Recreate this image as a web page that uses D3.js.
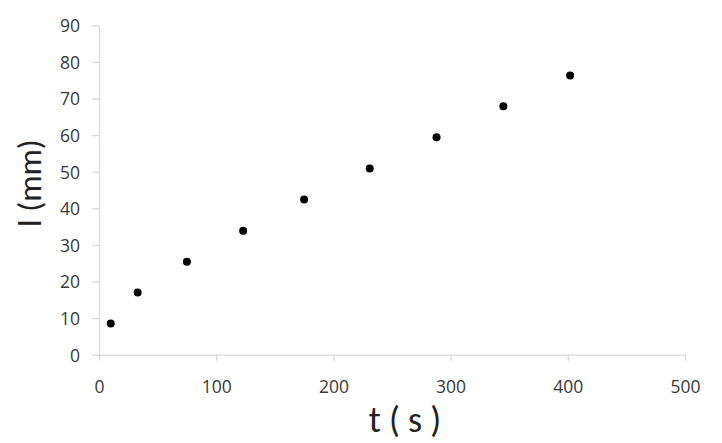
<!DOCTYPE html>
<html><head><meta charset="utf-8">
<script src="https://cdn.jsdelivr.net/npm/d3@7"></script>
<style>body{margin:0;background:#fff}svg{display:block}</style>
</head><body>
<script>
const tValues = [10, 33, 75, 123, 175, 231, 288, 345, 402];
const lValues = [8.5, 17, 25.4, 33.9, 42.4, 50.9, 59.4, 67.9, 76.3];
const xTicks = [0, 100, 200, 300, 400, 500];
const yTicks = [0, 10, 20, 30, 40, 50, 60, 70, 80, 90];

const W = 722, H = 443;
const svg = d3.select("body").append("svg").attr("width", W).attr("height", H);
const font = "Carlito, 'Open Sans', 'Noto Sans', sans-serif";
const tickFont = "'Open Sans', 'Noto Sans', sans-serif";
const x = d3.scaleLinear().domain([0, 500]).range([99, 685]);
const y = d3.scaleLinear().domain([0, 90]).range([354.7, 25.3]);

const xa = svg.append("g").attr("transform", "translate(0,354.7)")
  .call(d3.axisBottom(x).tickValues(xTicks).tickSize(6).tickSizeOuter(0).tickPadding(20));
const ya = svg.append("g").attr("transform", "translate(99,0)")
  .call(d3.axisLeft(y).tickValues(yTicks).tickSize(7).tickSizeOuter(0).tickPadding(12));
[xa, ya].forEach(a => {
  a.attr("font-family", null).attr("font-size", null);
  a.selectAll("path,line").attr("stroke", "#d9d9d9").attr("stroke-width", 1.3);
  a.selectAll("text").attr("fill", "#3a3a3a").style("font-family", tickFont).style("font-size", "17.5px");
});
ya.selectAll("text").attr("dy", "0.36em");

svg.append("g").selectAll("circle").data(tValues).join("circle")
  .attr("cx", d => x(d)).attr("cy", (d, i) => y(lValues[i])).attr("r", 4).attr("fill", "#000");

svg.append("text").attr("x", 405).attr("y", 432).attr("text-anchor", "middle")
  .style("font-family", font).style("font-size", "36px").attr("fill", "#222").text("t ( s )");
svg.append("text").attr("transform", "translate(41,183) rotate(-90)").attr("text-anchor", "middle")
  .style("font-family", font).style("font-size", "33px").attr("fill", "#222").text("l (mm)");
</script>
</body></html>
